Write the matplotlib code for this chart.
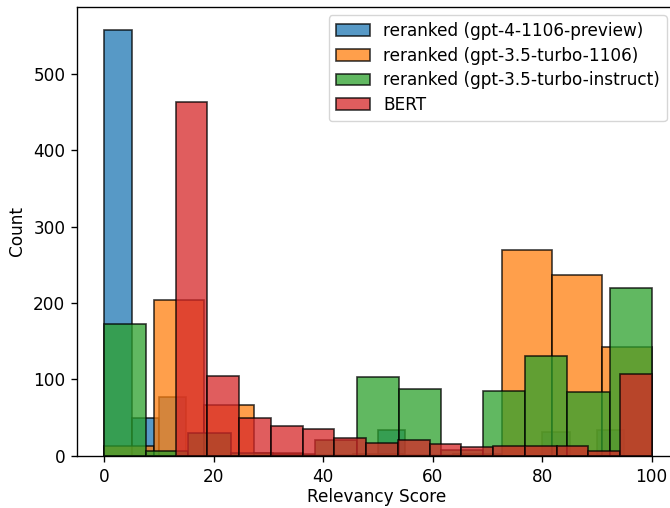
import numpy as np
import matplotlib
matplotlib.use("Agg")
import matplotlib.pyplot as plt

# ---- data (counts per histogram bin) ----
labels = [
    "reranked (gpt-4-1106-preview)",
    "reranked (gpt-3.5-turbo-1106)",
    "reranked (gpt-3.5-turbo-instruct)",
    "BERT",
]
# bin ranges (data min/max used for each histogram)
gpt4_range = (0.0, 100.0)
gpt35_range = (0.0, 100.0)
instruct_range = (0.0, 100.0)
bert_range = (13.07, 100.0)

gpt4_counts = [558, 49, 77, 0, 0, 0, 0, 0, 0, 0,
               34, 0, 0, 0, 0, 0, 31, 0, 34, 0]
gpt35_counts = [13, 204, 67, 3, 1, 2, 1, 2, 269, 236, 143]
instruct_counts = [172, 6, 30, 3, 2, 20, 103, 87, 7, 85, 131, 83, 220]
bert_counts = [463, 104, 50, 39, 35, 23, 17, 21, 15, 12, 13, 13, 13, 6, 107]

colors = ["#1f77b4", "#ff7f0e", "#2ca02c", "#d62728"]

s = 1.217
plt.rcParams.update({
    "font.family": ["DejaVu Sans"],
    "font.size": 10 * s,
    "axes.linewidth": 0.8 * s,
    "xtick.major.size": 3.5 * s,
    "ytick.major.size": 3.5 * s,
    "xtick.major.width": 0.8 * s,
    "ytick.major.width": 0.8 * s,
    "xtick.major.pad": 3.5 * s,
    "ytick.major.pad": 3.5 * s,
    "axes.labelpad": 4.0 * s,
})

W, H = 670, 508
fig = plt.figure(figsize=(W / 100, H / 100), dpi=100)
x0, x1 = 77.3, 675.0
y_bottom, y_top = 455.7, 6.7
ax = fig.add_axes([x0 / W, (H - y_bottom) / H, (x1 - x0) / W, (y_bottom - y_top) / H])

series = [
    (gpt4_range, gpt4_counts),
    (gpt35_range, gpt35_counts),
    (instruct_range, instruct_counts),
    (bert_range, bert_counts),
]
for (rng, counts), lab, col in zip(series, labels, colors):
    counts = np.asarray(counts, dtype=float)
    edges = np.linspace(rng[0], rng[1], len(counts) + 1)
    widths = np.diff(edges)
    ax.bar(edges[:-1], counts, width=widths, align="edge",
           color=col, edgecolor="black", linewidth=1.0 * s,
           alpha=0.75, label=lab)

ax.set_xlim(-4.91, 104.25)
ax.set_ylim(0, 588)
ax.set_xticks([0, 20, 40, 60, 80, 100])
ax.set_yticks([0, 100, 200, 300, 400, 500])
ax.set_xlabel("Relevancy Score", labelpad=2.0)
ax.set_ylabel("Count")
ax.legend(loc="upper right", labelspacing=0.4)

fig.savefig("out.png", dpi=100)
